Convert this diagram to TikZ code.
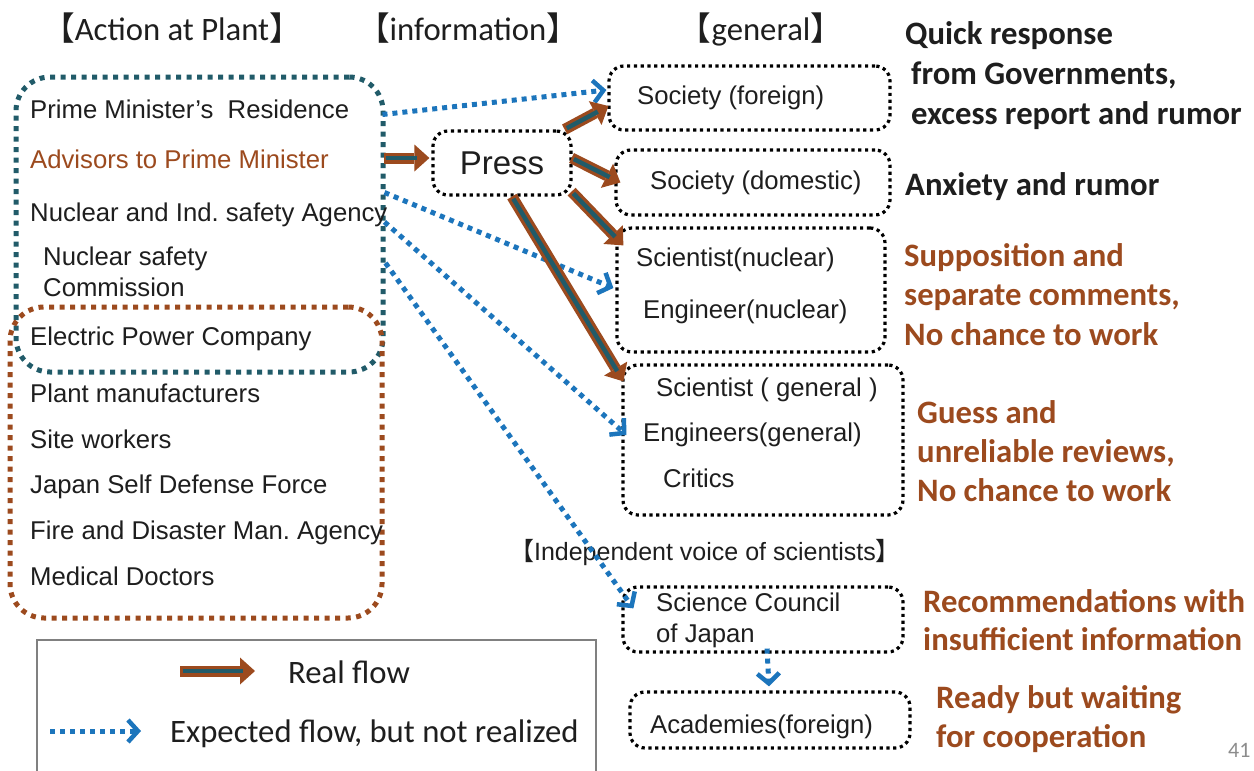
\documentclass[tikz,border=0pt]{standalone}
\usepackage{fontspec}
\setmainfont{Liberation Sans}
\newfontfamily\calib{Carlito}
\newfontfamily\cjkf{Noto Sans CJK JP}
\usetikzlibrary{arrows.meta,calc}
\frenchspacing
\definecolor{brn}{HTML}{9C4A1E}
\definecolor{tealc}{HTML}{215B69}
\definecolor{bluec}{HTML}{1C75BC}
\definecolor{txt}{HTML}{1E1E1E}
\definecolor{pgnum}{HTML}{8C8C8C}
\definecolor{legline}{HTML}{808080}
\tikzset{
  lbl/.style={anchor=base west, inner sep=0pt, text=txt, font=\fontsize{25.7}{30}\selectfont},
  note/.style={anchor=base west, inner sep=0pt, text=txt, font=\calib\bfseries\fontsize{32.7}{40}\selectfont},
  bnote/.style={note, text=brn},
  head/.style={anchor=base, inner sep=0pt, text=txt, font=\calib\fontsize{32.7}{40}\selectfont},
  legtext/.style={anchor=base west, inner sep=0pt, text=txt, font=\calib\fontsize{32.7}{40}\selectfont},
  bbox/.style={draw=black, line width=3.2pt, dash pattern=on 3.2pt off 3.6pt, rounded corners=15pt, inner sep=0pt},
  groupbox/.style={line width=5pt, dash pattern=on 5pt off 5.5pt, rounded corners=34pt, inner sep=0pt},
  realout/.style={draw=brn, line width=11pt, -{Triangle[length=15pt,width=27pt,line width=0pt]}},
  realin/.style={draw=tealc, line width=4.5pt, shorten >=12pt, shorten <=2.5pt},
  expflow/.style={draw=bluec, line width=5pt, dash pattern=on 5pt off 5pt, -{Straight Barb[length=10pt,width=22pt,line width=4.5pt]}},
}
\newcommand\realflow[2]{\draw[realout] #1 -- #2; \draw[realin] #1 -- #2;}
\begin{document}
\begin{tikzpicture}[x=1pt,y=-1pt]
\useasboundingbox (0,0) rectangle (1254,771);
\fill[white] (0,0) rectangle (1254,771);

% headings
\node[head] (h1) at (172,40) {{\cjkf 【}Action at Plant{\cjkf 】}};
\node[head] (h2) at (468,40) {{\cjkf 【}information{\cjkf 】}};
\node[head] (h3) at (761,40) {{\cjkf 【}general{\cjkf 】}};

% group boxes
\node[groupbox, draw=tealc, minimum width=367pt, minimum height=295pt] (gov) at (199.5,224.5) {};
\node[groupbox, draw=brn, minimum width=372pt, minimum height=311pt] (plant) at (196,462.5) {};

% left texts
\node[lbl] (pm) at (30,118) {Prime Minister’s~ Residence};
\node[lbl, text=brn] (adv) at (30,168) {Advisors to Prime Minister};
\node[lbl] (nisa) at (30,221) {Nuclear and Ind. safety Agency};
\node[lbl] (nsc1) at (43,265) {Nuclear safety};
\node[lbl] (nsc2) at (43,296) {Commission};
\node[lbl] (epc) at (30,345) {Electric Power Company};
\node[lbl] (pmf) at (30,402) {Plant manufacturers};
\node[lbl] (sw) at (30,448) {Site workers};
\node[lbl] (sdf) at (30,493) {Japan Self Defense Force};
\node[lbl] (fdma) at (30,539) {Fire and Disaster Man. Agency};
\node[lbl] (md) at (30,585) {Medical Doctors};

% press
\node[bbox, minimum width=138pt, minimum height=64pt, text=txt, font=\fontsize{33}{36}\selectfont] (press) at (502,163) {Press};

% right boxes
\node[bbox, minimum width=281pt, minimum height=64pt] (sf) at (749.5,98) {};
\node[bbox, minimum width=274pt, minimum height=65pt] (sd) at (753,182.5) {};
\node[bbox, minimum width=268pt, minimum height=124pt] (sn) at (751,290) {};
\node[bbox, minimum width=280pt, minimum height=150pt] (sg) at (763,440) {};
\node[bbox, minimum width=280pt, minimum height=65pt] (scj) at (763,619.5) {};
\node[bbox, minimum width=280pt, minimum height=56pt] (acad) at (770,720) {};

\node[lbl] (sft) at (637,104) {Society (foreign)};
\node[lbl] (sdt) at (650,189) {Society (domestic)};
\node[lbl] (snt1) at (636,266) {Scientist(nuclear)};
\node[lbl] (snt2) at (643,318) {Engineer(nuclear)};
\node[lbl] (sgt1) at (656,396) {Scientist ( general )};
\node[lbl] (sgt2) at (643,441) {Engineers(general)};
\node[lbl] (sgt3) at (663,487) {Critics};
\node[anchor=base, inner sep=0pt, text=txt, font=\fontsize{25}{30}\selectfont] (indep) at (705,560) {{\cjkf 【}Independent voice of scientists{\cjkf 】}};
\node[lbl] (scjt1) at (656,611) {Science Council};
\node[lbl] (scjt2) at (656,642) {of Japan};
\node[lbl] (acadt) at (650,733) {Academies(foreign)};

% annotations
\node[note] (n1a) at (905,44) {Quick response};
\node[note] (n1b) at (911,84) {from Governments,};
\node[note] (n1c) at (911,124) {excess report and rumor};
\node[note] (n2) at (905,195) {Anxiety and rumor};
\node[bnote] (n3a) at (904,266) {Supposition and};
\node[bnote] (n3b) at (904,305) {separate comments,};
\node[bnote] (n3c) at (904,345) {No chance to work};
\node[bnote] (n4a) at (917,423) {Guess and};
\node[bnote] (n4b) at (917,462) {unreliable reviews,};
\node[bnote] (n4c) at (917,501) {No chance to work};
\node[bnote] (n5a) at (923,612) {Recommendations with};
\node[bnote] (n5b) at (923,650) {insufficient information};
\node[bnote] (n6a) at (936,708) {Ready but waiting};
\node[bnote] (n6b) at (936,747) {for cooperation};
\node[anchor=base west, inner sep=0pt, text=pgnum, font=\calib\fontsize{22}{24}\selectfont] (pg) at (1228,757) {41};

% expected flows (blue dotted)
\draw[expflow] ($(gov.north east)+(-3,40)$) -- ($(sf.west)+(-1,-8)$);
\draw[expflow] ($(gov.north east)+(-1,118)$) -- ($(sn.west)+(-2,-2)$);
\draw[expflow] ($(gov.east)+(-1,-2.5)$) -- ($(sg.west)+(5,-5)$);
\draw[expflow] ($(gov.east)+(0,38.5)$) -- ($(scj.north west)+(12,23)$);
\draw[expflow] ($(scj.south)+(4,-5)$) -- ($(acad.north)+(-1,-4)$);

% real flows
\realflow{($(gov.east |- press.west)+(-2,-5)$)}{($(press.west)+(-2,-5)$)}
\realflow{($(press.north east)+(-8,0)$)}{($(sf.west)+(1,8)$)}
\realflow{($(press.east)+(-1,-5)$)}{($(sd.west)+(6,0)$)}
\realflow{($(press.south east)+(-1,-5)$)}{($(sn.north west)+(8,19)$)}
\realflow{($(press.south)+(10,0)$)}{($(sg.north west)+(2,18)$)}

% legend
\draw[legline, line width=1.5pt] (37,780) -- (37,640) -- (596,640) -- (596,780);
\coordinate (lr1) at (180,671);
\coordinate (lr2) at (255,671);
\realflow{(lr1)}{(lr2)}
\node[legtext] (lrt) at (288,683) {Real flow};
\coordinate (lb1) at (50,731);
\coordinate (lb2) at (141,731);
\draw[expflow] (lb1) -- (lb2);
\node[legtext] (lbt) at (170,742) {Expected flow, but not realized};
\end{tikzpicture}
\end{document}
